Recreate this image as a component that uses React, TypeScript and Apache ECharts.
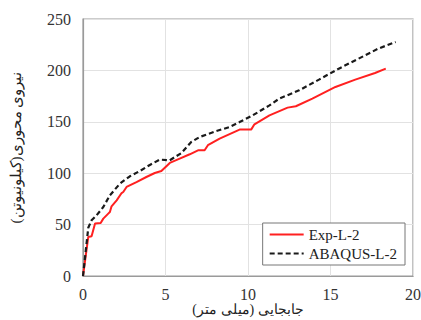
import React, { useEffect, useRef } from "react";
import * as echarts from "echarts";

const expX = [0, 0.32, 0.52, 0.73, 1.07, 1.23, 1.53, 1.63, 1.73, 2.04, 2.34, 2.44, 2.64, 3.24, 3.84, 4.35, 4.75, 5.26, 5.86, 6.47, 6.97, 7.37, 7.57, 8.28, 9.49, 10.19, 10.39, 11.3, 12.4, 12.9, 13.9, 15.3, 16.5, 17.7, 18.35];
const expY = [0, 38, 38.6, 51, 51.6, 55.8, 60.7, 62.3, 67.8, 73.6, 80.7, 81.7, 86.6, 91.4, 96.3, 100.2, 102.1, 110, 114.2, 118.4, 122.3, 122.3, 127.2, 133.7, 142.4, 142.4, 147.6, 156.3, 163.8, 165.1, 172.6, 183.9, 191, 197.5, 201.7];

const abqX = [0, 0.32, 0.52, 0.82, 1.23, 1.63, 2.24, 2.84, 3.44, 4.05, 4.65, 5.26, 5.96, 6.56, 7.07, 8.08, 8.88, 9.49, 10.29, 11.3, 11.9, 13.1, 14.3, 15.5, 16.7, 17.9, 18.95];
const abqY = [0, 47, 54.2, 59, 67.1, 78.5, 89.9, 97, 102.1, 108, 113.2, 112.6, 119.6, 130.4, 135.2, 141, 144.9, 149.8, 156.3, 166, 172.6, 180.6, 191, 201.7, 211.4, 221.2, 227.7];

const xTicks = [0, 5, 10, 15, 20];
const yTicks = [0, 50, 100, 150, 200, 250];
const seriesNames = ["Exp-L-2", "ABAQUS-L-2"];
const xTitle = "جابجایی (میلی متر)";
const yTitle = "نیروی محوری(کیلونیوتن)";

export default function App() {
  const ref = useRef<HTMLDivElement>(null);
  useEffect(() => {
    if (!ref.current) return;
    const chart = echarts.init(ref.current, undefined, { renderer: "svg" });
    const font = "Liberation Serif";
    chart.setOption({
      animation: false,
      backgroundColor: "#fff",
      grid: {
        left: 83, top: 19, right: 8, bottom: 44,
        outerBoundsMode: "none",
        containLabel: false,
        show: true, borderColor: "#9a9a9a", borderWidth: 1.2,
      },
      legend: {
        right: 16, top: 223,
        orient: "vertical",
        backgroundColor: "#fff",
        borderColor: "#777",
        borderWidth: 1,
        padding: [4, 8, 4, 6],
        itemGap: 4,
        itemWidth: 34,
        itemHeight: 14,
        itemStyle: { opacity: 0 },
        textStyle: { fontFamily: font, fontSize: 15, color: "#222" },
        data: seriesNames,
      },
      xAxis: {
        type: "value",
        min: xTicks[0], max: xTicks[xTicks.length - 1], interval: 5,
        name: xTitle, nameLocation: "middle", nameGap: 33,
        nameMoveOverlap: false,
        nameTextStyle: { fontFamily: font, fontSize: 14, color: "#222", verticalAlign: "middle", lineHeight: 14 },
        axisLine: { show: true, lineStyle: { color: "#9a9a9a", width: 1.2 } },
        axisTick: { show: false },
        axisLabel: { fontFamily: font, fontSize: 16, color: "#333", margin: 10 },
        splitLine: { show: true, lineStyle: { color: "#e2e2e2" } },
      },
      yAxis: {
        type: "value",
        min: yTicks[0], max: yTicks[yTicks.length - 1], interval: 50,
        name: yTitle, nameLocation: "middle", nameGap: 60, nameRotate: 90,
        nameTextStyle: { fontFamily: font, fontSize: 15, color: "#222" },
        axisLine: { show: true, lineStyle: { color: "#9a9a9a", width: 1.2 } },
        axisTick: { show: false },
        axisLabel: { fontFamily: font, fontSize: 16, color: "#333", margin: 12 },
        splitLine: { show: true, lineStyle: { color: "#e2e2e2" } },
      },
      series: [
        {
          name: seriesNames[0], type: "line", symbol: "none",
          data: expX.map((x, i) => [x, expY[i]]),
          lineStyle: { color: "#ff2020", width: 2 },
          itemStyle: { color: "#ff2020" },
          z: 2,
        },
        {
          name: seriesNames[1], type: "line", symbol: "none",
          data: abqX.map((x, i) => [x, abqY[i]]),
          lineStyle: { color: "#1a1a1a", width: 2.2, type: [5, 3] },
          itemStyle: { color: "#1a1a1a" },
          z: 3,
        },
      ],
    });
    return () => chart.dispose();
  }, []);
  return <div ref={ref} style={{ width: 421, height: 320, position: "absolute", left: 0, top: 0 }} />;
}
